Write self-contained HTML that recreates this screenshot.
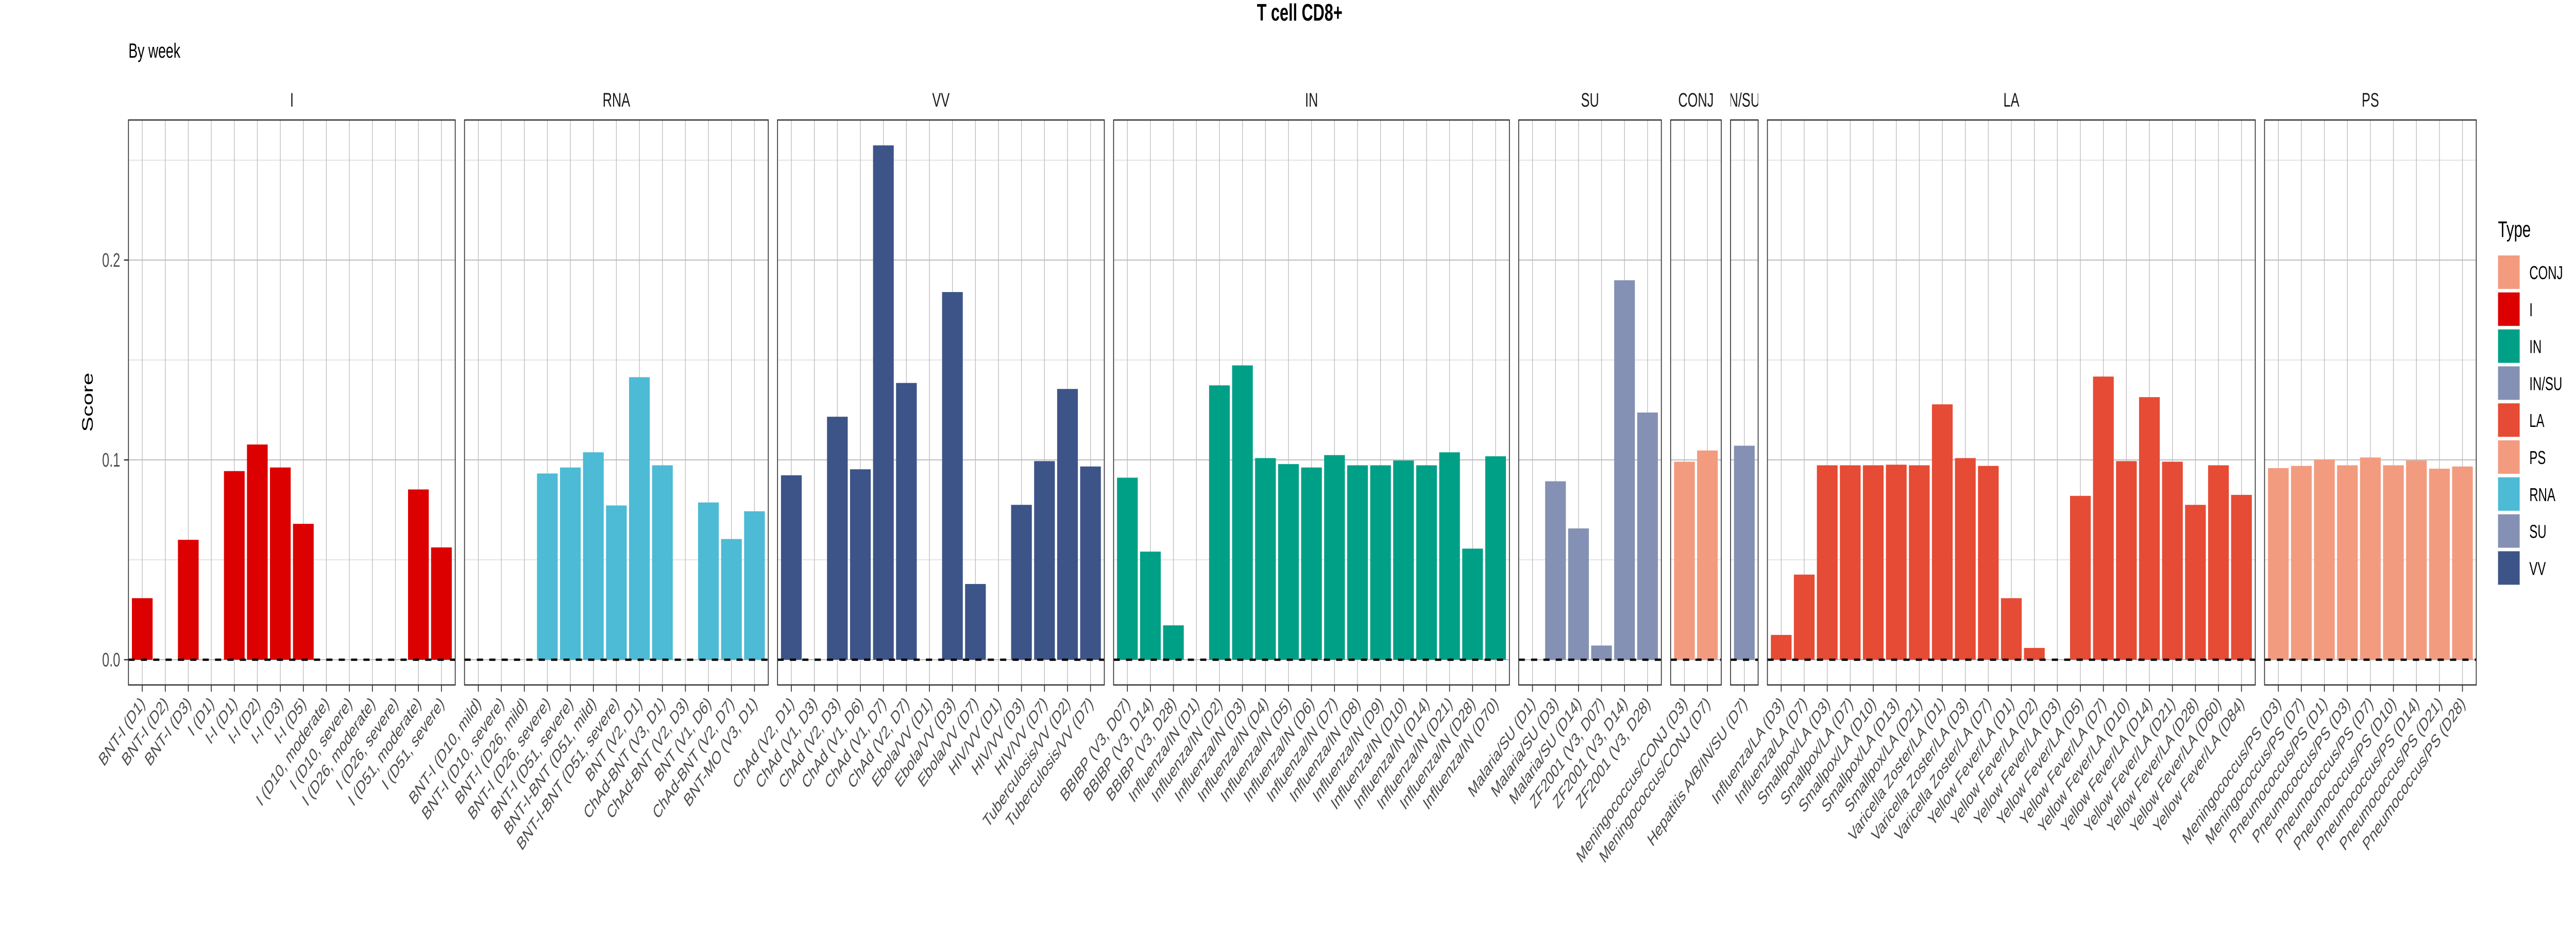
<!DOCTYPE html>
<html><head><meta charset="utf-8">
<style>
html,body{margin:0;padding:0;background:#fff;width:100%;height:100%;overflow:hidden;}
svg{display:block;font-family:"Liberation Sans",sans-serif;width:100vw;height:100vh;}
</style></head>
<body>
<svg id="chart" viewBox="0 0 7500 1800" preserveAspectRatio="none" xmlns="http://www.w3.org/2000/svg">
<defs id="defs"></defs>
<text x="3784" y="40" text-anchor="middle" font-size="46" font-weight="bold">T cell CD8+</text>
<text x="374" y="112" font-size="40">By week</text>
<text transform="translate(270,781) rotate(-90)" text-anchor="middle" font-size="44">Score</text>
<g id="panels"></g>
<g id="legend"></g>
</svg>
<script>
const facetNames = ["I","RNA","VV","IN","SU","CONJ","N/SU","LA","PS"];
const facetColors = ["#DC0000","#4DBBD5","#3C5488","#00A087","#8491B4","#F39B7F","#8491B4","#E64B35","#F39B7F"];
const catsI = ["BNT-I (D1)","BNT-I (D2)","BNT-I (D3)","I (D1)","I-I (D1)","I-I (D2)","I-I (D3)","I-I (D5)","I (D10, moderate)","I (D10, severe)","I (D26, moderate)","I (D26, severe)","I (D51, moderate)","I (D51, severe)"];
const valsI = [0.0308,0,0.060,0,0.0944,0.1077,0.0962,0.068,0,0,0,0,0.0852,0.0562];
const catsRNA = ["BNT-I (D10, mild)","BNT-I (D10, severe)","BNT-I (D26, mild)","BNT-I (D26, severe)","BNT-I (D51, severe)","BNT-I-BNT (D51, mild)","BNT-I-BNT (D51, severe)","BNT (V2, D1)","ChAd-BNT (V3, D1)","ChAd-BNT (V2, D3)","BNT (V1, D6)","ChAd-BNT (V2, D7)","BNT-MO (V3, D1)"];
const valsRNA = [0,0,0,0.0932,0.0962,0.1038,0.0772,0.1414,0.0973,0,0.0787,0.0604,0.0743];
const catsVV = ["ChAd (V2, D1)","ChAd (V1, D3)","ChAd (V2, D3)","ChAd (V1, D6)","ChAd (V1, D7)","ChAd (V2, D7)","Ebola/VV (D1)","Ebola/VV (D3)","Ebola/VV (D7)","HIV/VV (D1)","HIV/VV (D3)","HIV/VV (D7)","Tuberculosis/VV (D2)","Tuberculosis/VV (D7)"];
const valsVV = [0.0923,0,0.1216,0.0953,0.2574,0.1385,0,0.184,0.0379,0,0.0775,0.0994,0.1355,0.0967];
const catsIN = ["BBIBP (V3, D07)","BBIBP (V3, D14)","BBIBP (V3, D28)","Influenza/IN (D1)","Influenza/IN (D2)","Influenza/IN (D3)","Influenza/IN (D4)","Influenza/IN (D5)","Influenza/IN (D6)","Influenza/IN (D7)","Influenza/IN (D8)","Influenza/IN (D9)","Influenza/IN (D10)","Influenza/IN (D14)","Influenza/IN (D21)","Influenza/IN (D28)","Influenza/IN (D70)"];
const valsIN = [0.0911,0.0541,0.0172,0,0.1373,0.1473,0.1009,0.0979,0.0962,0.1024,0.0973,0.0973,0.0997,0.0973,0.1038,0.0556,0.1018];
const catsSU = ["Malaria/SU (D1)","Malaria/SU (D3)","Malaria/SU (D14)","ZF2001 (V3, D07)","ZF2001 (V3, D14)","ZF2001 (V3, D28)"];
const valsSU = [0,0.0893,0.0657,0.0071,0.1899,0.1237];
const catsCONJ = ["Meningococcus/CONJ (D3)","Meningococcus/CONJ (D7)"];
const valsCONJ = [0.0991,0.1047];
const catsNSU = ["Hepatitis A/B/IN/SU (D7)"];
const valsNSU = [0.1071];
const catsLA = ["Influenza/LA (D3)","Influenza/LA (D7)","Smallpox/LA (D3)","Smallpox/LA (D7)","Smallpox/LA (D10)","Smallpox/LA (D13)","Smallpox/LA (D21)","Varicella Zoster/LA (D1)","Varicella Zoster/LA (D3)","Varicella Zoster/LA (D7)","Yellow Fever/LA (D1)","Yellow Fever/LA (D2)","Yellow Fever/LA (D3)","Yellow Fever/LA (D5)","Yellow Fever/LA (D7)","Yellow Fever/LA (D10)","Yellow Fever/LA (D14)","Yellow Fever/LA (D21)","Yellow Fever/LA (D28)","Yellow Fever/LA (D60)","Yellow Fever/LA (D84)"];
const valsLA = [0.0124,0.0426,0.0973,0.0973,0.0973,0.0976,0.0973,0.1278,0.1009,0.097,0.0308,0.0059,0,0.082,0.1417,0.0994,0.1314,0.0991,0.0775,0.0973,0.0825];
const catsPS = ["Meningococcus/PS (D3)","Meningococcus/PS (D7)","Pneumococcus/PS (D1)","Pneumococcus/PS (D3)","Pneumococcus/PS (D7)","Pneumococcus/PS (D10)","Pneumococcus/PS (D14)","Pneumococcus/PS (D21)","Pneumococcus/PS (D28)"];
const valsPS = [0.0959,0.097,0.1003,0.0973,0.1012,0.0973,0.0997,0.0956,0.0967];
const yTicks = [0, 0.1, 0.2];
const yTickLabels = ["0.0","0.1","0.2"];
const legendTypes = ["CONJ","I","IN","IN/SU","LA","PS","RNA","SU","VV"];
const legendColors = ["#F39B7F","#DC0000","#00A087","#8491B4","#E64B35","#F39B7F","#4DBBD5","#8491B4","#3C5488"];

const allCats = [catsI,catsRNA,catsVV,catsIN,catsSU,catsCONJ,catsNSU,catsLA,catsPS];
const allVals = [valsI,valsRNA,valsVV,valsIN,valsSU,valsCONJ,valsNSU,valsLA,valsPS];

const NS="http://www.w3.org/2000/svg";
const TOP=233, BOT=1330, Y0=1281, PXPER=3880;
const UNIT=67.0, GAP=27;
function y(v){return Y0 - v*PXPER;}
function mk(tag, attrs, parent){const e=document.createElementNS(NS,tag);for(const k in attrs)e.setAttribute(k,attrs[k]);parent.appendChild(e);return e;}
const root=document.getElementById('panels');
const defs=document.getElementById('defs');
let left=374;
for(let p=0;p<facetNames.length;p++){
  const cats=allCats[p], vals=allVals[p];
  const w=(cats.length+0.2)*UNIT;
  const g=mk('g',{},root);
  
  
  const xc=i=>left+(0.6+i)*UNIT;
  const cp=mk('clipPath',{id:'strip'+p},defs);
  mk('rect',{x:left,y:150,width:w,height:80},cp);
  const st=mk('text',{x:left+w/2,y:207,'text-anchor':'middle','font-size':38,fill:'#1a1a1a','clip-path':'url(#strip'+p+')'},g);
  
  
  st.textContent=facetNames[p];
  [0.05,0.15,0.25].forEach(v=>{const l=mk('line',{x1:left,x2:left+w,y1:y(v),y2:y(v),stroke:'#dcdcdc','stroke-width':1.5},g);
    });
  yTicks.forEach(v=>{const l=mk('line',{x1:left,x2:left+w,y1:y(v),y2:y(v),stroke:'#bdbdbd','stroke-width':2},g);
    });
  cats.forEach((c,i)=>{const l=mk('line',{x1:xc(i),x2:xc(i),y1:TOP,y2:BOT,stroke:'#bdbdbd','stroke-width':2},g);
    });
  vals.forEach((v,i)=>{
    const bw=0.9*UNIT;
    const r=mk('rect',{x:xc(i)-bw/2,y:Math.min(y(v),Y0),width:bw,height:Math.abs(Y0-y(v)),fill:facetColors[p]},g);
    
    
  });
  const zl=mk('line',{x1:left,x2:left+w,y1:Y0,y2:Y0,stroke:'#000','stroke-width':4.5,'stroke-dasharray':'18 18'},g);
  
  
  const b=mk('rect',{x:left,y:TOP,width:w,height:BOT-TOP,fill:'none',stroke:'#333','stroke-width':2.5},g);
  
  
  cats.forEach((c,i)=>{
    const t=mk('line',{x1:xc(i),x2:xc(i),y1:BOT,y2:BOT+13,stroke:'#333','stroke-width':2.5},g);
    
    const tx=mk('text',{transform:`translate(${xc(i)+10},${BOT+38}) rotate(-45)`,'text-anchor':'end','font-size':36,fill:'#4d4d4d'},g);
    
    
    tx.textContent=c;
  });
  if(p===0){
    yTicks.forEach((v,k)=>{
      const t=mk('line',{x1:left-13,x2:left,y1:y(v),y2:y(v),stroke:'#333','stroke-width':2.5},g);
      
      const tx=mk('text',{x:left-24,y:y(v)+13,'text-anchor':'end','font-size':38,fill:'#4d4d4d'},g);
      
      
      tx.textContent=yTickLabels[k];
    });
  }
  left+=w+GAP;
}
const lg=document.getElementById('legend');
const lt=mk('text',{x:7273,y:460,'font-size':44,fill:'#000'},lg);


lt.textContent='Type';
legendTypes.forEach((t,i)=>{
  const yy=496+i*71.8;
  const r=mk('rect',{x:7273,y:yy,width:63,height:65,fill:legendColors[i]},lg);
  
  
  const tx=mk('text',{x:7364,y:yy+46,'font-size':36,fill:'#000'},lg);
  
  
  tx.textContent=t;
});
</script>
</body></html>
